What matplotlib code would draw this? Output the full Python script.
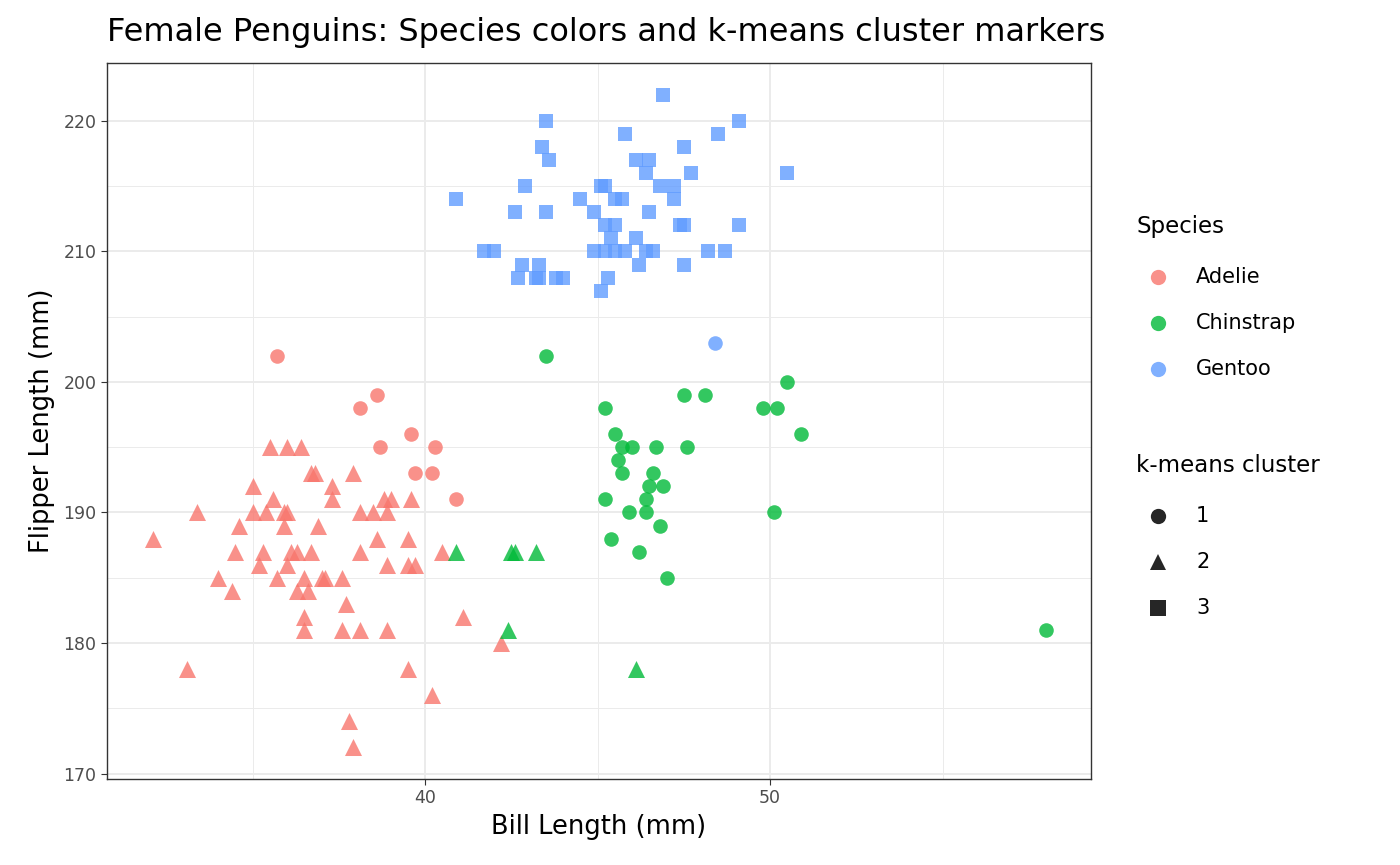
import matplotlib
matplotlib.use("Agg")
import matplotlib.pyplot as plt
import numpy as np

# Gentoo cluster 3 (squares)
gen_x = [40.9,46.9,43.5,49.1,45.8,48.5,43.4,47.5,43.6,46.1,46.5,50.5,46.4,47.7,42.9,45.1,45.2,46.8,47.2,
         44.5,45.5,45.7,47.2,42.6,43.5,44.9,46.5,45.2,45.5,47.4,47.5,49.1,45.4,46.1,41.7,42.0,44.9,45.2,45.5,
         45.8,46.4,46.6,48.2,48.7,42.8,43.3,46.2,47.5,42.7,43.2,43.3,43.8,44.0,45.3,45.1]
gen_y = [214,222,220,220,219,219,218,218,217,217,217,216,216,216,215,215,215,215,215,
         214,214,214,214,213,213,213,213,212,212,212,212,212,211,211,210,210,210,210,210,
         210,210,210,210,210,209,209,209,209,208,208,208,208,208,208,207]
gen1_x = [48.4]; gen1_y = [203]

chin1_x = [43.5,50.5,45.2,49.8,50.2,47.5,48.1,50.9,45.5,45.7,46.0,46.7,47.6,45.6,45.7,46.6,46.5,46.9,
           45.2,46.4,45.9,46.4,50.1,46.8,45.4,46.2,47.0,58.0]
chin1_y = [202,200,198,198,198,199,199,196,196,195,195,195,195,194,193,193,192,192,
           191,191,190,190,190,189,188,187,185,181]
chin2_x = [40.9,42.5,42.6,43.2,42.4,46.1]
chin2_y = [187,187,187,187,181,178]

ade1_x = [35.7,38.1,38.6,38.7,39.6,40.3,39.7,40.2,40.9]
ade1_y = [202,198,199,195,196,195,193,193,191]
ade2_x = [35.5,36.0,36.4, 36.7,36.8,37.9, 35.0,37.3, 35.6,37.3,38.8,39.0,39.6,
          33.4,35.0,35.4,35.9,36.0,38.1,38.5,38.9, 34.6,35.9,36.9, 32.1,38.6,39.5,
          34.5,35.3,36.1,36.3,36.7,38.1,40.5, 35.2,36.0,38.9,39.5,39.7,
          34.0,35.7,36.5,37.0,37.1,37.6, 34.4,36.3,36.6, 37.7, 36.5,41.1,
          36.5,37.6,38.1,38.9, 42.2, 33.1,39.5, 40.2, 37.8, 37.9]
ade2_y = [195,195,195, 193,193,193, 192,192, 191,191,191,191,191,
          190,190,190,190,190,190,190,190, 189,189,189, 188,188,188,
          187,187,187,187,187,187,187, 186,186,186,186,186,
          185,185,185,185,185,185, 184,184,184, 183, 182,182,
          181,181,181,181, 180, 178,178, 176, 174, 172]

RED, GREEN, BLUE = "#F8766D", "#00BA38", "#619CFF"

fig = plt.figure(figsize=(14, 8.65), dpi=100)
ax = fig.add_axes([107/1400, 1-779/865, (1091-107)/1400, (779-63)/865])
kw = dict(alpha=0.8, linewidths=0)
ax.scatter(ade1_x, ade1_y, c=RED, marker='o', s=110, **kw)
ax.scatter(ade2_x, ade2_y, c=RED, marker='^', s=150, **kw)
ax.scatter(chin1_x, chin1_y, c=GREEN, marker='o', s=110, **kw)
ax.scatter(chin2_x, chin2_y, c=GREEN, marker='^', s=150, **kw)
ax.scatter(gen1_x, gen1_y, c=BLUE, marker='o', s=110, **kw)
ax.scatter(gen_x, gen_y, c=BLUE, marker='s', s=110, **kw)

ax.set_xlim(30.78, 59.3)
ax.set_ylim(169.58, 224.44)
ax.set_xticks([40, 50]); ax.set_xticks([35, 45, 55], minor=True)
ax.set_yticks([170, 180, 190, 200, 210, 220]); ax.set_yticks(np.arange(175, 221, 10), minor=True)
ax.grid(True, which='major', color='#EBEBEB', lw=1.4)
ax.grid(True, which='minor', color='#EBEBEB', lw=0.7)
ax.set_axisbelow(True)
for s in ax.spines.values():
    s.set_color('#333333'); s.set_linewidth(1)
ax.tick_params(which='major', colors='#333333', labelcolor='#4D4D4D', labelsize=12.5, length=4)
ax.tick_params(which='minor', length=0)
ax.set_xlabel("Bill Length (mm)", fontsize=18.5, labelpad=5)
ax.set_ylabel("Flipper Length (mm)", fontsize=18.5, labelpad=6)
fig.text(107/1400, 1-32/865, "Female Penguins: Species colors and k-means cluster markers",
         fontsize=23, va='center', ha='left')

# Legends (manual)
fig.text(1136/1400, 1-227/865, "Species", fontsize=16.5, va='center')
for i, (lab, col) in enumerate([("Adelie", RED), ("Chinstrap", GREEN), ("Gentoo", BLUE)]):
    y = 1 - (277 + 46*i)/865
    fig.add_artist(plt.Line2D([1158/1400], [y], marker='o', color=col, alpha=0.8, ms=11, mew=0, ls=''))
    fig.text(1196/1400, y, lab, fontsize=15, va='center')
fig.text(1136/1400, 1-465/865, "k-means cluster", fontsize=16.5, va='center')
for i, (lab, m) in enumerate([("1", 'o'), ("2", '^'), ("3", 's')]):
    y = 1 - (516 + 46*i)/865
    fig.add_artist(plt.Line2D([1158/1400], [y], marker=m, color='black', alpha=0.85, ms=11, mew=0, ls=''))
    fig.text(1196/1400, y, lab, fontsize=15, va='center')

fig.savefig("out.png", dpi=100)
